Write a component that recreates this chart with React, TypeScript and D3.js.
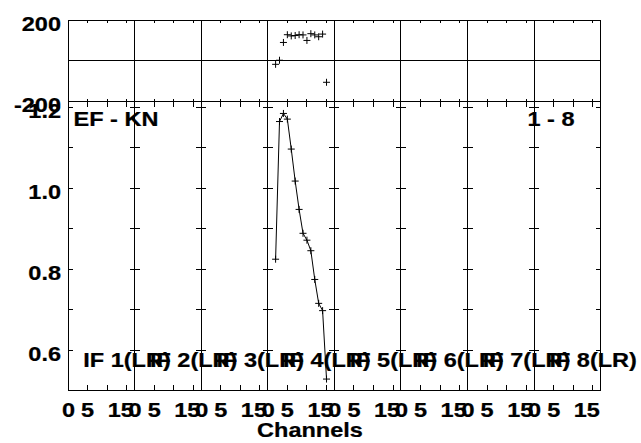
import React from "react";
import * as d3 from "d3";

// ---- data ----
const IF_LABELS = ["IF 1(LR)", "IF 2(LR)", "IF 3(LR)", "IF 4(LR)", "IF 5(LR)", "IF 6(LR)", "IF 7(LR)", "IF 8(LR)"];
const DATA_IF = 3; // IF 4 holds the data
const CHANNELS = [2, 3, 4, 5, 6, 7, 8, 9, 10, 11, 12, 13, 14, 15];
const AMPLITUDE = [0.825, 1.165, 1.185, 1.171, 1.097, 1.018, 0.948, 0.889, 0.872, 0.846, 0.775, 0.716, 0.698, 0.529];
const PHASE = [-17, 3, 90, 128, 122, 124, 128, 127, 100, 133, 127, 118, 131, -105];
const X_MINOR_TICKS = [5, 10, 15];
const X_TICK_LABELS = [
  { v: 0, t: "0" },
  { v: 5, t: "5" },
  { v: 15, t: "15" },
];
const AMP_TICKS = [1.2, 1.1, 1.0, 0.9, 0.8, 0.7, 0.6];
const AMP_LABELS = [1.2, 1.0, 0.8, 0.6];
const PHASE_LABELS = [200, -200];
const TITLE_LEFT = "EF - KN";
const TITLE_RIGHT = "1 - 8";
const X_TITLE = "Channels";

const W = 641;
const H = 443;
const LEFT = 68;
const RIGHT = 600.7;
const TOP = 20;
const MID = 101.7;
const BOTTOM = 390;
const CH_SPAN = 17;
const FONT = "'Liberation Sans', Arial, Helvetica, sans-serif";
const FS = 21;
const SX = 1.12;

export default function App() {
  const nIF = IF_LABELS.length;
  const x = d3.scaleLinear().domain([0, nIF * CH_SPAN]).range([LEFT, RIGHT]);
  const xc = (i: number, ch: number) => x(i * CH_SPAN + ch);
  const yPh = d3.scaleLinear().domain([-200, 200]).range([MID, TOP]);
  const yAmp = d3.scaleLinear().domain([0.502, 1.214]).range([BOTTOM, MID]);

  const ampLine = d3
    .line<number>()
    .x((_, k) => xc(DATA_IF, CHANNELS[k]))
    .y((d) => yAmp(d));

  const T = (props: { x: number; y: number; anchor?: string; children: React.ReactNode; fs?: number }) => (
    <text
      transform={`translate(${props.x},${props.y}) scale(${SX},1)`}
      textAnchor={props.anchor || "start"}
      fontFamily={FONT}
      fontWeight="bold"
      fontSize={props.fs || FS}
      fill="#000"
      stroke="#000"
      strokeWidth={0.25}
    >
      {props.children}
    </text>
  );

  const cross = (cx: number, cy: number, key: string) => (
    <path key={key} d={`M${cx - 3.5},${cy}H${cx + 3.5}M${cx},${cy - 3.5}V${cy + 3.5}`} stroke="#000" strokeWidth={1} fill="none" />
  );

  const panels = d3.range(nIF);

  return (
    <svg width={W} height={H} style={{ position: "absolute", left: 0, top: 0, background: "#fff" }}>
      <rect x={0} y={0} width={W} height={H} fill="#fff" />
      {/* frame */}
      <g stroke="#000" strokeWidth={1} fill="none" shapeRendering="crispEdges">
        <rect x={LEFT} y={TOP} width={RIGHT - LEFT} height={BOTTOM - TOP} />
        <line x1={LEFT} x2={RIGHT} y1={MID} y2={MID} />
        <line x1={LEFT} x2={RIGHT} y1={yPh(0)} y2={yPh(0)} />
        {panels.slice(1).map((i) => (
          <line key={"d" + i} x1={xc(i, 0)} x2={xc(i, 0)} y1={TOP} y2={BOTTOM} />
        ))}
      </g>
      {/* x ticks */}
      <g stroke="#000" strokeWidth={1} shapeRendering="crispEdges">
        {panels.map((i) =>
          X_MINOR_TICKS.map((c) => {
            const px = xc(i, c);
            return (
              <g key={`xt${i}-${c}`}>
                <line x1={px} x2={px} y1={TOP} y2={TOP + 2.7} />
                <line x1={px} x2={px} y1={MID - 2.7} y2={MID} />
                <line x1={px} x2={px} y1={MID} y2={MID + 5.5} />
                <line x1={px} x2={px} y1={BOTTOM - 5.5} y2={BOTTOM} />
              </g>
            );
          })
        )}
        {/* amplitude y ticks */}
        {AMP_TICKS.map((v) => {
          const py = yAmp(v);
          return (
            <g key={"yt" + v}>
              <line x1={LEFT} x2={LEFT + 5} y1={py} y2={py} />
              <line x1={RIGHT - 5} x2={RIGHT} y1={py} y2={py} />
              {panels.slice(1).map((i) => (
                <line key={i} x1={xc(i, 0) - 5} x2={xc(i, 0) + 5} y1={py} y2={py} />
              ))}
            </g>
          );
        })}
      </g>
      {/* data */}
      <path d={ampLine(AMPLITUDE) || ""} stroke="#000" strokeWidth={1} fill="none" />
      {AMPLITUDE.map((v, k) => cross(xc(DATA_IF, CHANNELS[k]), yAmp(v), "a" + k))}
      {PHASE.map((v, k) => cross(xc(DATA_IF, CHANNELS[k]), yPh(v), "p" + k))}
      {/* y labels */}
      {PHASE_LABELS.map((v) => (
        <T key={"pl" + v} x={61} y={yPh(v) + 10.5} anchor="end">
          {String(v)}
        </T>
      ))}
      {AMP_LABELS.map((v) => (
        <T key={"al" + v} x={61} y={yAmp(v) + 10.5} anchor="end">
          {d3.format(".1f")(v)}
        </T>
      ))}
      {/* x labels */}
      {panels.map((i) =>
        X_TICK_LABELS.map((l) => (
          <T key={`xl${i}-${l.v}`} x={xc(i, l.v) + (l.v === 15 ? -6 : l.v === 0 ? 0.5 : 0)} y={416.5} anchor="middle">
            {l.t}
          </T>
        ))
      )}
      {/* IF labels */}
      {IF_LABELS.map((t, i) => (
        <T key={"if" + i} x={xc(i, 0) + 15.3} y={367}>
          {t}
        </T>
      ))}
      <T x={73.5} y={126}>{TITLE_LEFT}</T>
      <T x={527.5} y={126}>{TITLE_RIGHT}</T>
      <T x={310} y={437} anchor="middle">{X_TITLE}</T>
    </svg>
  );
}
